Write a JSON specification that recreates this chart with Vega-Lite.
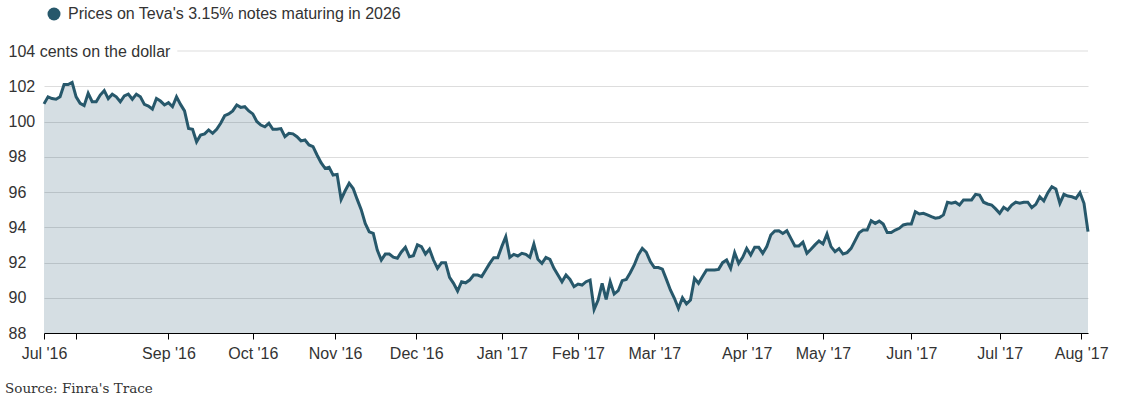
{
  "$schema": "https://vega.github.io/schema/vega-lite/v6.json",
  "width": 1044,
  "height": 282,
  "autosize": "none",
  "padding": {"left": 44, "top": 51, "right": 35, "bottom": 68},
  "background": "white",
  "config": {"view": {"stroke": null}, "font": "Liberation Sans"},
  "title": {"text": "Source: Finra's Trace", "orient": "bottom", "anchor": "start", "frame": "group", "dx": -39, "offset": 21, "font": "DejaVu Serif", "fontSize": 13.5, "fontWeight": "normal", "color": "#333333"},
  "data": {"values": [
    {"t":0,"p":101.0},{"t":1,"p":101.4},{"t":2,"p":101.3},{"t":3,"p":101.26},{"t":4,"p":101.4},{"t":5,"p":102.1},{"t":6,"p":102.1},{"t":7,"p":102.22},{"t":8,"p":101.4},{"t":9,"p":101.03},
    {"t":10,"p":100.9},{"t":11,"p":101.6},{"t":12,"p":101.12},{"t":13,"p":101.12},{"t":14,"p":101.5},{"t":15,"p":101.75},{"t":16,"p":101.3},{"t":17,"p":101.55},{"t":18,"p":101.4},{"t":19,"p":101.12},
    {"t":20,"p":101.45},{"t":21,"p":101.55},{"t":22,"p":101.26},{"t":23,"p":101.55},{"t":24,"p":101.4},{"t":25,"p":100.97},{"t":26,"p":100.88},{"t":27,"p":100.7},{"t":28,"p":101.3},{"t":29,"p":101.16},
    {"t":30,"p":100.94},{"t":31,"p":101.07},{"t":32,"p":100.84},{"t":33,"p":101.4},{"t":34,"p":100.97},{"t":35,"p":100.6},{"t":36,"p":99.6},{"t":37,"p":99.56},{"t":38,"p":98.85},{"t":39,"p":99.23},
    {"t":40,"p":99.3},{"t":41,"p":99.52},{"t":42,"p":99.33},{"t":43,"p":99.56},{"t":44,"p":99.9},{"t":45,"p":100.33},{"t":46,"p":100.43},{"t":47,"p":100.6},{"t":48,"p":100.94},{"t":49,"p":100.8},
    {"t":50,"p":100.84},{"t":51,"p":100.6},{"t":52,"p":100.43},{"t":53,"p":100.0},{"t":54,"p":99.8},{"t":55,"p":99.7},{"t":56,"p":99.9},{"t":57,"p":99.56},{"t":58,"p":99.56},{"t":59,"p":99.6},
    {"t":60,"p":99.14},{"t":61,"p":99.33},{"t":62,"p":99.3},{"t":63,"p":99.14},{"t":64,"p":98.9},{"t":65,"p":98.95},{"t":66,"p":98.67},{"t":67,"p":98.57},{"t":68,"p":98.1},{"t":69,"p":97.66},
    {"t":70,"p":97.34},{"t":71,"p":97.4},{"t":72,"p":96.96},{"t":73,"p":97.0},{"t":74,"p":95.58},{"t":75,"p":96.07},{"t":76,"p":96.5},{"t":77,"p":96.2},{"t":78,"p":95.58},{"t":79,"p":95.0},
    {"t":80,"p":94.22},{"t":81,"p":93.74},{"t":82,"p":93.65},{"t":83,"p":92.7},{"t":84,"p":92.14},{"t":85,"p":92.48},{"t":86,"p":92.48},{"t":87,"p":92.3},{"t":88,"p":92.24},{"t":89,"p":92.6},
    {"t":90,"p":92.86},{"t":91,"p":92.33},{"t":92,"p":92.39},{"t":93,"p":93.0},{"t":94,"p":92.9},{"t":95,"p":92.48},{"t":96,"p":92.75},{"t":97,"p":92.14},{"t":98,"p":91.67},{"t":99,"p":91.99},
    {"t":100,"p":91.99},{"t":101,"p":91.16},{"t":102,"p":90.82},{"t":103,"p":90.38},{"t":104,"p":90.91},{"t":105,"p":90.85},{"t":106,"p":91.0},{"t":107,"p":91.29},{"t":108,"p":91.29},{"t":109,"p":91.2},
    {"t":110,"p":91.57},{"t":111,"p":91.95},{"t":112,"p":92.27},{"t":113,"p":92.27},{"t":114,"p":92.9},{"t":115,"p":93.46},{"t":116,"p":92.29},{"t":117,"p":92.46},{"t":118,"p":92.37},{"t":119,"p":92.52},
    {"t":120,"p":92.46},{"t":121,"p":92.29},{"t":122,"p":93.05},{"t":123,"p":92.18},{"t":124,"p":91.95},{"t":125,"p":92.29},{"t":126,"p":92.18},{"t":127,"p":91.67},{"t":128,"p":91.29},{"t":129,"p":90.91},
    {"t":130,"p":91.29},{"t":131,"p":91.04},{"t":132,"p":90.63},{"t":133,"p":90.78},{"t":134,"p":90.72},{"t":135,"p":90.91},{"t":136,"p":91.0},{"t":137,"p":89.34},{"t":138,"p":89.87},{"t":139,"p":90.82},
    {"t":140,"p":89.91},{"t":141,"p":90.91},{"t":142,"p":90.21},{"t":143,"p":90.4},{"t":144,"p":90.97},{"t":145,"p":91.04},{"t":146,"p":91.42},{"t":147,"p":91.86},{"t":148,"p":92.43},{"t":149,"p":92.8},
    {"t":150,"p":92.58},{"t":151,"p":92.05},{"t":152,"p":91.71},{"t":153,"p":91.71},{"t":154,"p":91.62},{"t":155,"p":91.04},{"t":156,"p":90.44},{"t":157,"p":89.97},{"t":158,"p":89.4},{"t":159,"p":90.0},
    {"t":160,"p":89.65},{"t":161,"p":89.87},{"t":162,"p":91.1},{"t":163,"p":90.82},{"t":164,"p":91.2},{"t":165,"p":91.57},{"t":166,"p":91.57},{"t":167,"p":91.57},{"t":168,"p":91.61},{"t":169,"p":91.99},
    {"t":170,"p":92.14},{"t":171,"p":91.67},{"t":172,"p":92.56},{"t":173,"p":91.95},{"t":174,"p":92.29},{"t":175,"p":92.8},{"t":176,"p":92.43},{"t":177,"p":92.86},{"t":178,"p":92.86},{"t":179,"p":92.52},
    {"t":180,"p":92.9},{"t":181,"p":93.56},{"t":182,"p":93.79},{"t":183,"p":93.8},{"t":184,"p":93.65},{"t":185,"p":93.8},{"t":186,"p":93.37},{"t":187,"p":92.94},{"t":188,"p":92.94},{"t":189,"p":93.15},
    {"t":190,"p":92.52},{"t":191,"p":92.75},{"t":192,"p":93.0},{"t":193,"p":93.22},{"t":194,"p":93.05},{"t":195,"p":93.62},{"t":196,"p":92.9},{"t":197,"p":92.61},{"t":198,"p":92.79},{"t":199,"p":92.48},
    {"t":200,"p":92.56},{"t":201,"p":92.8},{"t":202,"p":93.24},{"t":203,"p":93.69},{"t":204,"p":93.84},{"t":205,"p":93.84},{"t":206,"p":94.37},{"t":207,"p":94.22},{"t":208,"p":94.35},{"t":209,"p":94.18},
    {"t":210,"p":93.7},{"t":211,"p":93.7},{"t":212,"p":93.84},{"t":213,"p":93.94},{"t":214,"p":94.13},{"t":215,"p":94.18},{"t":216,"p":94.18},{"t":217,"p":94.88},{"t":218,"p":94.75},{"t":219,"p":94.79},
    {"t":220,"p":94.7},{"t":221,"p":94.6},{"t":222,"p":94.51},{"t":223,"p":94.55},{"t":224,"p":94.7},{"t":225,"p":95.42},{"t":226,"p":95.36},{"t":227,"p":95.42},{"t":228,"p":95.26},{"t":229,"p":95.55},
    {"t":230,"p":95.55},{"t":231,"p":95.55},{"t":232,"p":95.87},{"t":233,"p":95.83},{"t":234,"p":95.42},{"t":235,"p":95.32},{"t":236,"p":95.26},{"t":237,"p":95.04},{"t":238,"p":94.79},{"t":239,"p":95.13},
    {"t":240,"p":94.98},{"t":241,"p":95.26},{"t":242,"p":95.42},{"t":243,"p":95.36},{"t":244,"p":95.42},{"t":245,"p":95.42},{"t":246,"p":95.11},{"t":247,"p":95.3},{"t":248,"p":95.73},{"t":249,"p":95.49},
    {"t":250,"p":95.96},{"t":251,"p":96.3},{"t":252,"p":96.17},{"t":253,"p":95.36},{"t":254,"p":95.87},{"t":255,"p":95.77},{"t":256,"p":95.73},{"t":257,"p":95.64},{"t":258,"p":95.96},{"t":259,"p":95.36},
    {"t":260,"p":93.75}
  ]},
  "layer": [
    {
      "mark": {"type": "area", "fill": "#2b5a75", "fillOpacity": 0.2},
      "encoding": {
        "x": {"field": "t", "type": "quantitative", "scale": {"domain": [0, 260], "nice": false, "zero": false},
          "axis": {
            "values": [0, 8, 31, 52, 72.5, 92.7, 114, 133, 152, 175, 194, 216, 238, 258.3],
            "tickCount": 40,
            "labelExpr": "[\"Jul '16\",\"\",\"Sep '16\",\"Oct '16\",\"Nov '16\",\"Dec '16\",\"Jan '17\",\"Feb '17\",\"Mar '17\",\"Apr '17\",\"May '17\",\"Jun '17\",\"Jul '17\",\"Aug '17\"][indexof([0,8,31,52,72.5,92.7,114,133,152,175,194,216,238,258.3], datum.value)]",
            "title": null, "grid": false,
            "domainColor": "#000000", "domainWidth": 1,
            "tickColor": "#000000", "tickSize": 6, "tickWidth": 1,
            "labelFont": "Liberation Sans", "labelFontSize": 16, "labelColor": "#333333",
            "labelPadding": 6, "labelFlush": false, "labelOverlap": false
          }
        },
        "y": {"field": "p", "type": "quantitative", "scale": {"domain": [88, 104], "nice": false, "zero": false},
          "axis": {
            "values": [88, 90, 92, 94, 96, 98, 100, 102, 104],
            "tickCount": 20,
            "labelExpr": "datum.value == 104 ? '104 cents on the dollar' : datum.label",
            "title": null, "domain": false, "ticks": false, "tickSize": 0,
            "labelAlign": "left", "labelPadding": 36, "labelOverlap": false,
            "labelFont": "Liberation Sans", "labelFontSize": 16, "labelColor": "#333333",
            "grid": true, "gridColor": "#dddddd",
            "gridOpacity": {"condition": {"test": "datum.value == 104", "value": 0}, "value": 1}
          }
        },
        "y2": {"datum": 88}
      }
    },
    {
      "mark": {"type": "line", "strokeWidth": 3},
      "encoding": {
        "x": {"field": "t", "type": "quantitative"},
        "y": {"field": "p", "type": "quantitative"},
        "color": {"datum": "Prices on Teva's 3.15% notes maturing in 2026", "type": "nominal", "scale": {"range": ["#27586b"]},
          "legend": {
            "orient": "none", "legendX": 2, "legendY": -45, "title": null, "padding": 0,
            "symbolType": "circle", "symbolSize": 169, "symbolFillColor": "#27586b", "symbolStrokeWidth": 0,
            "labelFont": "Liberation Sans", "labelFontSize": 16, "labelColor": "#333333", "labelOffset": 6, "labelLimit": 0,
            "encode": {"symbols": {"update": {"fill": {"value": "#27586b"}, "stroke": {"value": "transparent"}, "strokeWidth": {"value": 0}}}}
          }
        }
      }
    },
    {
      "data": {"values": [{"a": 33.2, "b": 260, "y": 104}]},
      "mark": {"type": "rule", "color": "#dddddd", "strokeWidth": 1},
      "encoding": {
        "x": {"field": "a", "type": "quantitative"},
        "x2": {"field": "b"},
        "y": {"field": "y", "type": "quantitative"}
      }
    }
  ]
}
